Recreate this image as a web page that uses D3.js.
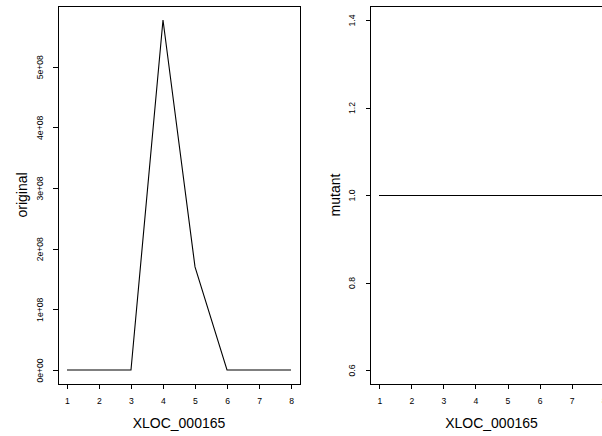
<!DOCTYPE html>
<html>
<head>
<meta charset="utf-8">
<script src="https://cdn.jsdelivr.net/npm/d3@7"></script>
<style>
  html, body { margin: 0; padding: 0; background: #fff; }
  svg { display: block; overflow: hidden; }
  text { font-family: "Liberation Sans", Arial, sans-serif; fill: #000; }
</style>
</head>
<body>
<svg id="chart" width="602" height="436"></svg>
<script>
// ---- data ----
const categories = [1, 2, 3, 4, 5, 6, 7, 8];
const originalValues = [0, 0, 0, 5.77e8, 1.7e8, 0, 0, 0];
const mutantValues = [1, 1, 1, 1, 1, 1, 1, 1];
const xTicks = [1, 2, 3, 4, 5, 6, 7, 8];
const originalYTicks = [0, 1e8, 2e8, 3e8, 4e8, 5e8];
const originalYTickLabels = ["0e+00", "1e+08", "2e+08", "3e+08", "4e+08", "5e+08"];
const mutantYTicks = [0.6, 0.8, 1.0, 1.2, 1.4];
const mutantYTickLabels = ["0.6", "0.8", "1.0", "1.2", "1.4"];
const xTitle = "XLOC_000165";

const svg = d3.select("#chart");

function pad(lo, hi) { const d = (hi - lo) * 0.04; return [lo - d, hi + d]; }

function panel(opts) {
  const { left, right, top, bottom, values, yDomain, yTicks, yLabels, yTitle, yTitleX, crisp } = opts;
  const g = svg.append("g");
  const x = d3.scaleLinear().domain(pad(1, 8)).range([left, right]);
  const y = d3.scaleLinear().domain(pad(yDomain[0], yDomain[1])).range([bottom, top]);

  // x axis
  const xa = g.append("g").attr("transform", `translate(0,${bottom})`)
    .call(d3.axisBottom(x).tickValues(xTicks).tickFormat(d3.format("d")).tickSize(5).tickPadding(9));
  xa.select(".domain").remove();
  xa.selectAll("line").attr("stroke", "#000").attr("shape-rendering", "crispEdges");
  xa.selectAll("text").attr("font-size", "8.6px").attr("font-family", "Liberation Sans, Arial, sans-serif").attr("fill", "#000");

  // y axis
  const ya = g.append("g").attr("transform", `translate(${left},0)`)
    .call(d3.axisLeft(y).tickValues(yTicks).tickFormat((d, i) => yLabels[i]).tickSize(5));
  ya.select(".domain").remove();
  ya.selectAll("line").attr("stroke", "#000").attr("shape-rendering", "crispEdges");
  ya.selectAll("text")
    .attr("x", null).attr("dy", "0.35em")
    .attr("text-anchor", "middle")
    .attr("transform", "translate(-18.5,0) rotate(-90)")
    .attr("font-size", "8.6px").attr("font-family", "Liberation Sans, Arial, sans-serif").attr("fill", "#000");

  // box
  g.append("rect")
    .attr("x", left).attr("y", top)
    .attr("width", right - left).attr("height", bottom - top)
    .attr("fill", "none").attr("stroke", "#000").attr("stroke-width", 1)
    .attr("shape-rendering", "crispEdges");

  // line
  const line = d3.line().x((d, i) => x(categories[i])).y(d => y(d));
  const p = g.append("path").datum(values)
    .attr("d", line).attr("fill", "none").attr("stroke", "#000")
    .attr("stroke-width", crisp ? 1 : 1.1);
  if (crisp) p.attr("shape-rendering", "crispEdges");

  // titles
  g.append("text")
    .attr("x", x(4.5)).attr("y", 428)
    .attr("text-anchor", "middle").attr("font-size", "14px")
    .text(xTitle);
  g.append("text")
    .attr("transform", `translate(${yTitleX},${(top + bottom) / 2}) rotate(-90)`)
    .attr("text-anchor", "middle").attr("font-size", "14px")
    .text(yTitle);
}

panel({
  left: 58, right: 300, top: 6, bottom: 384,
  values: originalValues, yDomain: [0, d3.max(originalValues)],
  yTicks: originalYTicks, yLabels: originalYTickLabels,
  yTitle: "original", yTitleX: 27, crisp: false
});

panel({
  left: 370.5, right: 612.5, top: 6, bottom: 384,
  values: mutantValues, yDomain: [0.6, 1.4],
  yTicks: mutantYTicks, yLabels: mutantYTickLabels,
  yTitle: "mutant", yTitleX: 339.5, crisp: true
});
</script>
</body>
</html>
